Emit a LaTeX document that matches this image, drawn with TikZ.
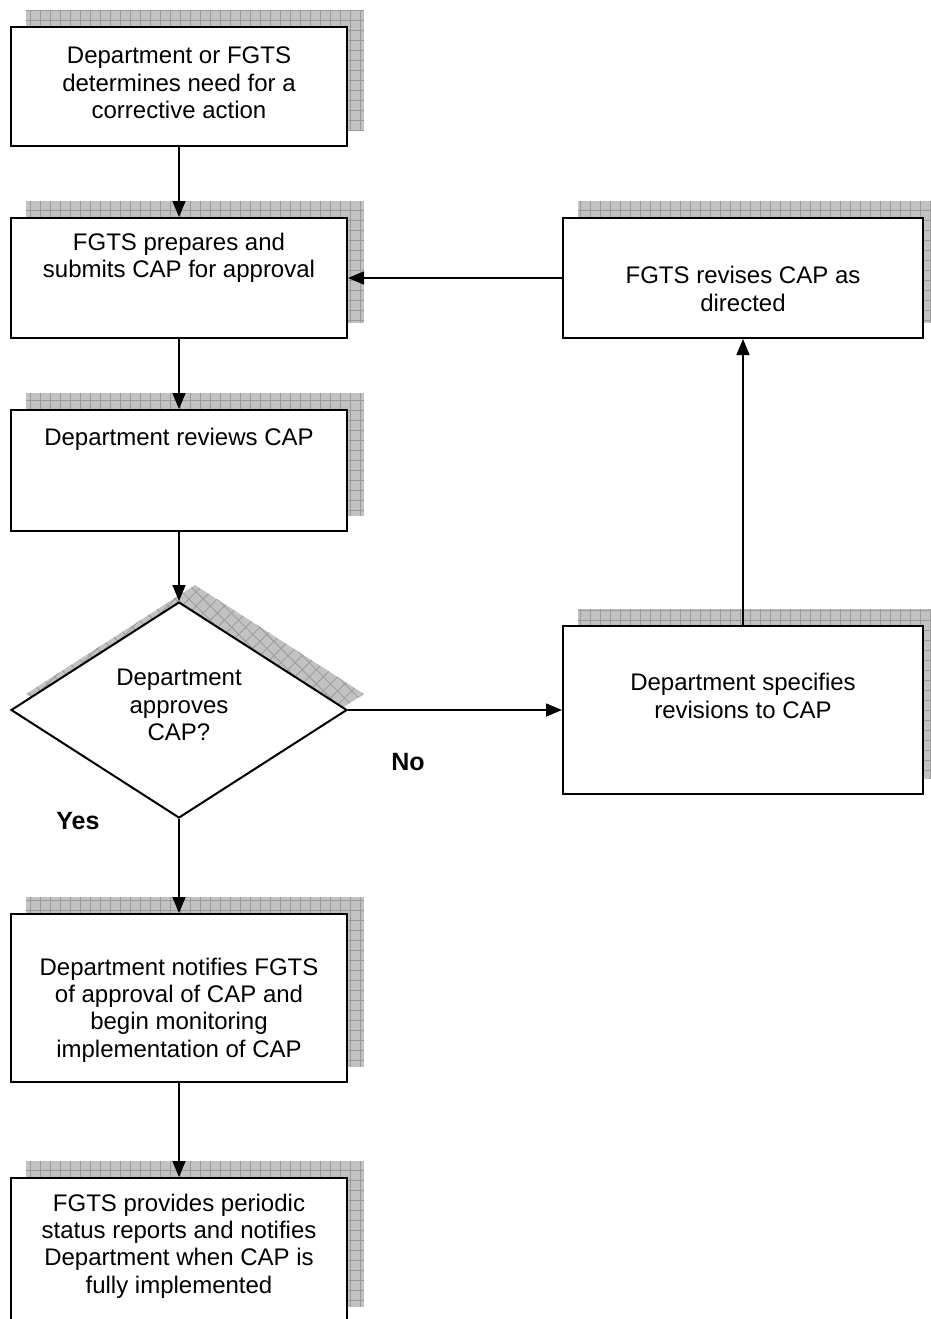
\documentclass[tikz,border=0pt]{standalone}
\usepackage{fontspec}
\setmainfont{Liberation Sans}
\usetikzlibrary{shapes.geometric,arrows.meta,backgrounds}
\definecolor{shfillc}{HTML}{C2C2C2}
\definecolor{shgridc}{HTML}{9A9A9A}
\newcommand\boxshadow[1]{%
  \begin{scope}
    \clip ([shift={(16,16)}]#1.south west) rectangle ([shift={(16,16)}]#1.north east);
    \fill[shfillc] ([shift={(16,16)}]#1.south west) rectangle ([shift={(16,16)}]#1.north east);
    \draw[shgrid, step=10pt] ([shift={(16,16)}]#1.south west) grid ([shift={(16,16)}]#1.north east);
  \end{scope}}
\begin{document}
\begin{tikzpicture}[x=1pt,y=1pt,
  box/.style={draw=black, line width=2pt, fill=white, rectangle, inner sep=0pt},
  dbox/.style={draw=black, line width=2pt, fill=white, diamond, inner sep=0pt, aspect=1.55},
  txt/.style={align=center, inner sep=0pt, font=\fontsize{24}{27.3}\selectfont},
  lbl/.style={inner sep=0pt, font=\fontsize{25}{28}\selectfont\bfseries},
  arr/.style={line width=1.5pt, -{Triangle[length=16pt,width=13pt]}},
  shgrid/.style={draw=shgridc, line width=0.8pt}]
\useasboundingbox (0,0) rectangle (930,-1319);

% boxes
\node[box, minimum width=336pt, minimum height=119pt] (b1) at (179,-86.5) {};
\node[box, minimum width=336pt, minimum height=120pt] (b2) at (179,-278) {};
\node[box, minimum width=336pt, minimum height=121pt] (b3) at (179,-470.5) {};
\node[dbox, minimum width=336pt, minimum height=216pt] (d) at (179,-710) {};
\node[box, minimum width=336pt, minimum height=168pt] (b4) at (179,-998) {};
\node[box, minimum width=336pt, minimum height=144pt] (b5) at (179,-1250) {};
\node[box, minimum width=360pt, minimum height=120pt] (r1) at (743,-278) {};
\node[box, minimum width=360pt, minimum height=168pt] (r2) at (743,-710) {};

% texts
\node[txt] (t1) at (179,-83) {Department or FGTS\\determines need for a\\corrective action};
\node[txt] (t2) at (179,-258) {FGTS prepares and\\submits CAP for approval};
\node[txt] (t3) at (179,-439) {Department reviews CAP};
\node[txt] (td) at (179,-705) {Department\\approves\\CAP?};
\node[txt] (t4) at (179,-1010) {Department notifies FGTS\\of approval of CAP and\\begin monitoring\\implementation of CAP};
\node[txt] (t5) at (179,-1246) {FGTS provides periodic\\status reports and notifies\\Department when CAP is\\fully implemented};
\node[txt] (tr1) at (743,-289) {FGTS revises CAP as\\directed};
\node[txt] (tr2) at (743,-696) {Department specifies\\revisions to CAP};

\node[lbl] (yes) at (78,-821) {Yes};
\node[lbl] (no) at (408,-762) {No};

% connectors
\draw[arr] (b1) -- (b2);
\draw[arr] (b2) -- (b3);
\draw[arr] (b3) -- (d);
\draw[arr] (d) -- (b4);
\draw[arr] (b4) -- (b5);
\draw[arr] (d) -- (r2);
\draw[arr] (r2) -- (r1);
\draw[arr] (r1) -- (b2);

% shadows
\begin{scope}[on background layer]
  \boxshadow{b1}
  \boxshadow{b2}
  \boxshadow{b3}
  \boxshadow{b4}
  \boxshadow{b5}
  \boxshadow{r1}
  \boxshadow{r2}
  \begin{scope}
    \clip ([shift={(16,16)}]d.north) -- ([shift={(16,16)}]d.east) -- ([shift={(16,16)}]d.south) -- ([shift={(16,16)}]d.west) -- cycle;
    \fill[shfillc] (0,-560) rectangle (400,-840);
    \foreach \k in {0,...,72} {
      \draw[shgrid] ({-320+14.142*\k},-500) -- ++(400,-400);
      \draw[shgrid] ({-320+14.142*\k},-500) -- ++(-400,-400);
    }
  \end{scope}
\end{scope}
\end{tikzpicture}
\end{document}
